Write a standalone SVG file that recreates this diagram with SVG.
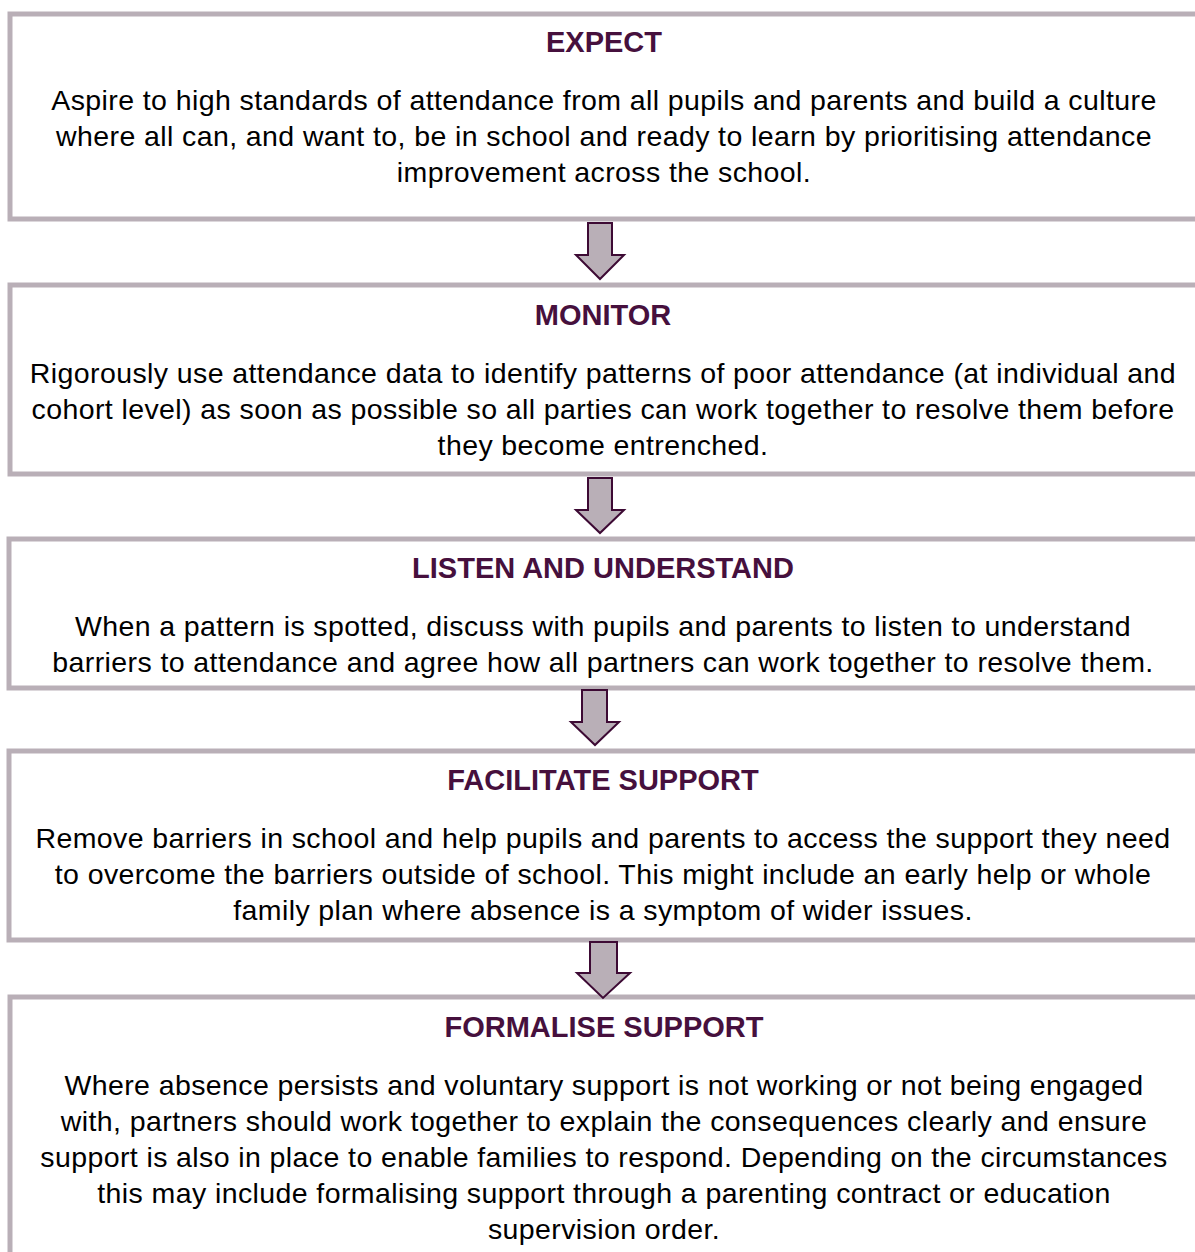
<svg xmlns="http://www.w3.org/2000/svg" width="1195" height="1252" viewBox="0 0 1195 1252">
<style>
.box{fill:#fff;stroke:#b9afb7;stroke-width:5}
.title{font-family:"Liberation Sans",Arial,sans-serif;font-weight:bold;font-size:29px;fill:#46103d;text-anchor:middle}
.body{font-family:"Liberation Sans",Arial,sans-serif;font-size:28.5px;letter-spacing:0.4px;fill:#000;text-anchor:middle}
.arrow{fill:#b9afb7;stroke:#3d0a34;stroke-width:2;stroke-linejoin:miter}
</style>
<rect width="1195" height="1252" fill="#fff"/>
<g id="expect">
<rect class="box" x="10" y="14" width="1190" height="205"/>
<text class="title" x="604" y="52">EXPECT</text>
<text class="body" x="604" y="110">Aspire to high standards of attendance from all pupils and parents and build a culture</text>
<text class="body" x="604" y="146">where all can, and want to, be in school and ready to learn by prioritising attendance</text>
<text class="body" x="604" y="182">improvement across the school.</text>
</g>
<g id="monitor">
<rect class="box" x="10" y="285" width="1190" height="189"/>
<text class="title" x="603" y="325">MONITOR</text>
<text class="body" x="603" y="383">Rigorously use attendance data to identify patterns of poor attendance (at individual and</text>
<text class="body" x="603" y="419">cohort level) as soon as possible so all parties can work together to resolve them before</text>
<text class="body" x="603" y="455">they become entrenched.</text>
</g>
<g id="listen">
<rect class="box" x="9" y="539" width="1190" height="149"/>
<text class="title" x="603" y="578">LISTEN AND UNDERSTAND</text>
<text class="body" x="603" y="636">When a pattern is spotted, discuss with pupils and parents to listen to understand</text>
<text class="body" x="603" y="672">barriers to attendance and agree how all partners can work together to resolve them.</text>
</g>
<g id="facilitate">
<rect class="box" x="9" y="751" width="1190" height="189"/>
<text class="title" x="603" y="790">FACILITATE SUPPORT</text>
<text class="body" x="603" y="848">Remove barriers in school and help pupils and parents to access the support they need</text>
<text class="body" x="603" y="884">to overcome the barriers outside of school. This might include an early help or whole</text>
<text class="body" x="603" y="920">family plan where absence is a symptom of wider issues.</text>
</g>
<g id="formalise">
<rect class="box" x="10" y="997" width="1190" height="270"/>
<text class="title" x="604" y="1037">FORMALISE SUPPORT</text>
<text class="body" x="604" y="1095">Where absence persists and voluntary support is not working or not being engaged</text>
<text class="body" x="604" y="1131">with, partners should work together to explain the consequences clearly and ensure</text>
<text class="body" x="604" y="1167">support is also in place to enable families to respond. Depending on the circumstances</text>
<text class="body" x="604" y="1203">this may include formalising support through a parenting contract or education</text>
<text class="body" x="604" y="1239">supervision order.</text>
</g>
<g id="connectors">
<polygon class="arrow" points="588,223 612,223 612,255 624,255 600,279 576,255 588,255"/>
<polygon class="arrow" points="588,478 612,478 612,510 624,510 600,533 576,510 588,510"/>
<polygon class="arrow" points="582,690 607,690 607,722 619,722 595,745 571,722 582,722"/>
<polygon class="arrow" points="590,942 617,942 617,973 630,973 603,998 577,973 590,973"/>
</g>
</svg>
